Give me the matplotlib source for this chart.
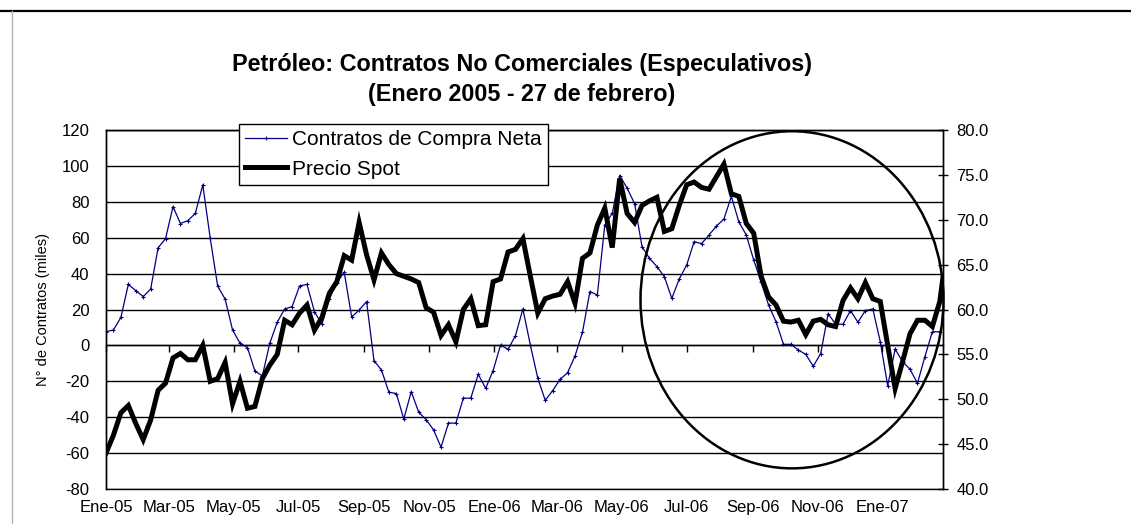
import datetime as dt
import matplotlib
matplotlib.use("Agg")
import matplotlib.pyplot as plt
from matplotlib.patches import Ellipse
from matplotlib.lines import Line2D
from matplotlib.ticker import MultipleLocator, FormatStrFormatter

plt.rcParams['font.family'] = ['Liberation Sans', 'DejaVu Sans']
plt.rcParams['axes.unicode_minus'] = False

# weekly observations, Jan 2005 -> Feb 2007
start = dt.date(2005, 1, 1)
weeks = [start + dt.timedelta(days=7 * i) for i in range(113)]
last_day = dt.date(2007, 2, 27)

# net long non-commercial contracts (thousands)
net_long = [
    7.6, 8.6, 15.6, 34.0, 30.5, 27.2, 31.4, 54.4, 59.5, 77.3,
    67.9, 69.5, 73.6, 89.4, 59.7, 33.0, 25.8, 8.6, 1.2, -1.2,
    -14.3, -17.0, 1.2, 12.9, 20.3, 21.6, 33.1, 34.0, 18.8, 11.8,
    25.8, 35.0, 40.7, 15.8, 19.7, 24.4, -8.5, -13.7, -26.1, -26.8,
    -41.0, -25.8, -37.2, -41.3, -47.1, -56.7, -43.3, -43.3, -29.4, -29.4,
    -16.1, -23.9, -14.0, 0.2, -2.2, 5.4, 20.3, 0.2, -18.3, -30.6,
    -25.2, -18.9, -15.2, -5.9, 7.3, 30.0, 28.1, 67.1, 73.6, 94.6,
    87.6, 79.0, 55.0, 48.5, 43.9, 38.3, 26.2, 37.0, 44.8, 57.8,
    56.7, 61.5, 66.5, 70.4, 83.0, 68.9, 61.5, 47.6, 35.2, 22.5,
    13.2, 0.6, 0.6, -2.6, -5.0, -11.6, -4.6, 17.7, 11.8, 11.8,
    19.4, 12.9, 19.4, 20.3, 2.1, -22.4, -2.0, -9.1, -13.3, -21.1,
    -6.2, 7.6, 7.6,
]

# spot price (USD/bbl), weekly plus the last day
spot_dates = weeks + [last_day]
spot_price = [
    44.0, 46.0, 48.5, 49.3, 47.3, 45.5, 47.7, 51.0, 51.8, 54.6,
    55.1, 54.4, 54.4, 56.0, 52.0, 52.3, 54.1, 49.5, 52.0, 49.0,
    49.2, 52.3, 53.8, 55.0, 58.8, 58.3, 59.6, 60.5, 57.7, 59.1,
    61.8, 63.1, 66.0, 65.5, 69.7, 66.1, 63.3, 66.3, 65.0, 64.0,
    63.7, 63.4, 63.0, 60.2, 59.7, 57.1, 58.3, 56.4, 60.0, 61.2,
    58.2, 58.3, 63.1, 63.4, 66.4, 66.7, 67.9, 63.7, 59.6, 61.2,
    61.5, 61.7, 63.1, 60.7, 65.7, 66.3, 69.4, 71.3, 66.9, 74.6,
    70.7, 69.7, 71.6, 72.1, 72.5, 68.7, 69.0, 71.6, 73.9, 74.2,
    73.6, 73.4, 74.8, 76.2, 72.9, 72.6, 69.6, 68.5, 63.7, 61.4,
    60.5, 58.7, 58.6, 58.8, 57.2, 58.7, 58.9, 58.3, 58.1, 61.0,
    62.4, 61.2, 63.0, 61.2, 60.9, 56.0, 51.2, 54.2, 57.3, 58.8,
    58.8, 58.1, 60.9, 63.6,
]

tick_dates = [dt.date(2005 + m // 12, m % 12 + 1, 1) for m in range(0, 25, 2)]
tick_labels = ["Ene-05", "Mar-05", "May-05", "Jul-05", "Sep-05", "Nov-05",
               "Ene-06", "Mar-06", "May-06", "Jul-06", "Sep-06", "Nov-06",
               "Ene-07"]

W, H = 1131, 524
fig = plt.figure(figsize=(W / 100, H / 100), dpi=100)
ax = fig.add_axes([106 / W, 35 / H, 837 / W, 359 / H])
ax2 = ax.twinx()

l1, = ax.plot(weeks, net_long, color='#000080', lw=0.9, marker='+',
              markersize=3.5, mew=0.8, label='Contratos de Compra Neta')
l2, = ax2.plot(spot_dates, spot_price, color='black', lw=3.6,
               solid_joinstyle='miter', label='Precio Spot')

ax.set_ylim(-80, 120)
ax.yaxis.set_major_locator(MultipleLocator(20))
ax.yaxis.grid(True, color='black', lw=1.0)
ax.set_axisbelow(True)
ax.tick_params(axis='y', length=0, pad=12, labelsize=12)
ax.set_ylabel('N° de Contratos (miles)', fontsize=10.5, labelpad=8)

ax2.set_ylim(40, 80)
ax2.yaxis.set_major_locator(MultipleLocator(5))
ax2.yaxis.set_major_formatter(FormatStrFormatter('%.1f'))
ax2.tick_params(axis='y', direction='inout', length=7, width=1, pad=6,
                labelsize=12)

# category axis crosses at 0 (tick marks there), labels stay low
ax.set_xlim(start, last_day)
ax.set_xticks(tick_dates)
ax.spines['bottom'].set_position(('data', 0))
ax.tick_params(axis='x', direction='out', length=5, width=1,
               labelbottom=False)
ax2.xaxis.set_visible(True)
ax2.set_xticks(tick_dates)
ax2.set_xticklabels(tick_labels)
ax2.tick_params(axis='x', length=0, pad=8, labelsize=12)

for a in (ax, ax2):
    for s in a.spines.values():
        s.set_color('black')
        s.set_linewidth(1.0)

# highlight circle
circle = Ellipse((0.8196, 0.527), 0.362, 0.939, transform=ax2.transAxes,
                 fill=False, edgecolor='black', lw=1.8, clip_on=False, zorder=5)
ax2.add_patch(circle)

leg = ax2.legend([l1, l2], [l1.get_label(), l2.get_label()],
                 loc='upper left', bbox_to_anchor=(239 / W, 1 - 124 / H),
                 bbox_transform=fig.transFigure, fontsize=15, frameon=True,
                 fancybox=False, edgecolor='black', framealpha=1,
                 borderpad=0.3, handlelength=2.0, handletextpad=0.25,
                 labelspacing=0.5, borderaxespad=0)
leg.get_frame().set_linewidth(1.0)
leg.set_zorder(10)

fig.text(522 / W, 1 - 64 / H, 'Petróleo: Contratos No Comerciales (Especulativos)',
         ha='center', va='center', fontsize=16.8, fontweight='bold')
fig.text(522 / W, 1 - 94 / H, '(Enero 2005 - 27 de febrero)',
         ha='center', va='center', fontsize=16.8, fontweight='bold')

# page borders
fig.add_artist(Line2D([0, 1], [1 - 11 / H] * 2, transform=fig.transFigure,
                      color='black', lw=1.6))
fig.add_artist(Line2D([12 / W] * 2, [0, 1 - 11 / H], transform=fig.transFigure,
                      color='#b4b4b4', lw=1.0))

fig.savefig('out.png', dpi=100)
